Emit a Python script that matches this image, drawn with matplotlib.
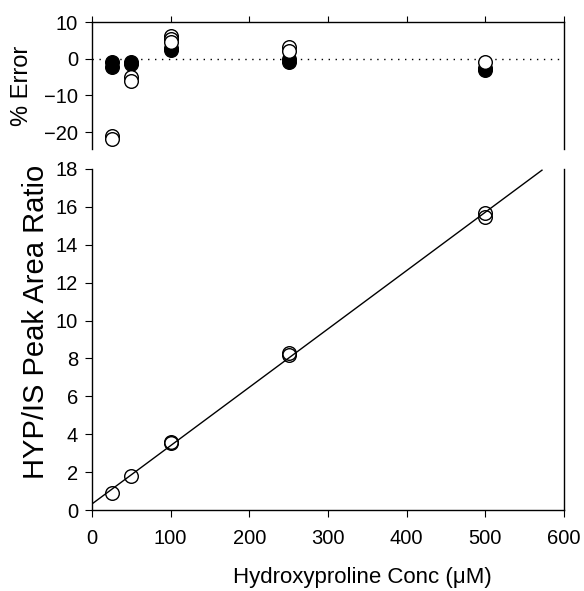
import matplotlib
matplotlib.use("Agg")
import matplotlib.pyplot as plt
import numpy as np

plt.rcParams['font.family'] = ['Liberation Sans', 'DejaVu Sans']

# % Error data (top panel)
err_open_x = [25, 25, 50, 50, 100, 100, 100, 250, 250, 500]
err_open_y = [-21.0, -21.8, -5.0, -6.0, 6.3, 5.5, 4.5, 3.2, 2.2, -0.8]
err_fill_x = [25, 25, 50, 50, 100, 100, 250, 250, 500, 500]
err_fill_y = [-1.0, -2.2, -0.8, -1.5, 3.0, 2.5, -0.2, -0.8, -2.5, -3.2]

# Peak area ratio data (bottom panel)
conc_x = [25, 50, 100, 100, 250, 250, 500, 500]
ratio_y = [0.9, 1.8, 3.55, 3.6, 8.2, 8.3, 15.45, 15.7]

# Regression line
fit_slope = 0.0308
fit_intercept = 0.32
fit_xrange = [0, 572]

xticks = [0, 100, 200, 300, 400, 500, 600]
err_ticks = [-20, -10, 0, 10]
ratio_ticks = [0, 2, 4, 6, 8, 10, 12, 14, 16, 18]

fig = plt.figure(figsize=(5.84, 5.91), dpi=100)
W, H = 584, 591
L, R = 92, 564
ax1 = fig.add_axes([L / W, 1 - 149 / H, (R - L) / W, (149 - 22) / H])
ax2 = fig.add_axes([L / W, 1 - 510 / H, (R - L) / W, (510 - 169) / H])

fs = 14.5
# top panel
ax1.axhline(0, color='black', lw=1, ls=(0, (1, 4)), zorder=1)
ax1.plot(err_fill_x, err_fill_y, 'o', ms=9.8, mfc='black', mec='black', mew=1, zorder=2)
ax1.plot(err_open_x, err_open_y, 'o', ms=9.8, mfc='white', mec='black', mew=1, zorder=3)
ax1.set_xlim(0, 600)
ax1.set_ylim(-24.6, 10)
ax1.set_yticks(err_ticks)
ax1.set_xticks(xticks)
ax1.spines['bottom'].set_visible(False)
ax1.xaxis.set_ticks_position('top')
ax1.tick_params(axis='x', labeltop=False, labelbottom=False, direction='out', length=4)
ax1.tick_params(axis='y', direction='out', length=5, labelsize=fs, pad=5)
ax1.set_ylabel('% Error', fontsize=17, labelpad=8)

# bottom panel
xx = np.array(fit_xrange, dtype=float)
ax2.plot(xx, fit_slope * xx + fit_intercept, color='black', lw=1)
ax2.plot(conc_x, ratio_y, 'o', ms=9.8, mfc='none', mec='black', mew=1)
ax2.set_xlim(0, 600)
ax2.set_ylim(0, 18)
ax2.set_xticks(xticks)
ax2.set_yticks(ratio_ticks)
ax2.spines['top'].set_visible(False)
ax2.tick_params(direction='out', length=5, labelsize=fs)
ax2.tick_params(axis='y', pad=5)
ax2.tick_params(axis='x', pad=9)
ax2.set_xlabel('Hydroxyproline Conc (μM)', fontsize=16)
ax2.xaxis.set_label_coords(0.572, -0.168)
ax2.set_ylabel('HYP/IS Peak Area Ratio', fontsize=21)
ax2.yaxis.set_label_coords(-0.09, 0.551)

for ax in (ax1, ax2):
    for s in ax.spines.values():
        s.set_linewidth(1)

fig.savefig('out.png', dpi=100)
